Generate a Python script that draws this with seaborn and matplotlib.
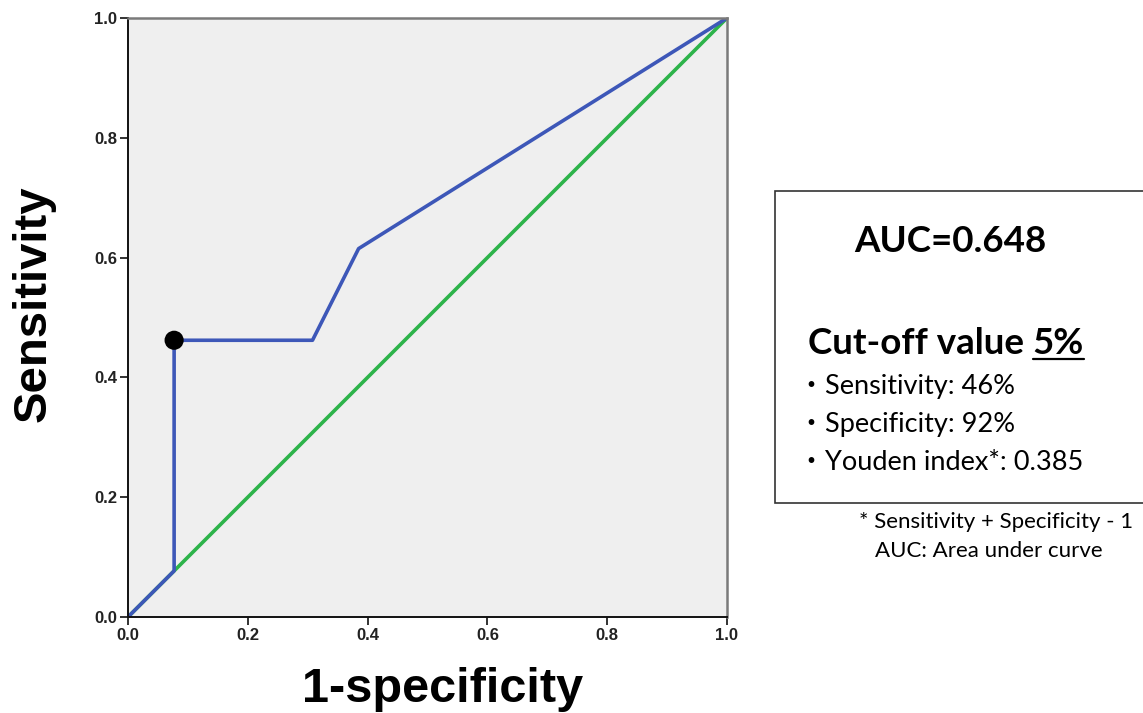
import matplotlib
matplotlib.use('Agg')
import matplotlib.pyplot as plt
import seaborn as sns
import pandas as pd
from matplotlib.patches import Rectangle
from matplotlib.lines import Line2D

# ROC curve (1-specificity, sensitivity)
fpr = [0.0, 0.077, 0.077, 0.308, 0.385, 1.0]
tpr = [0.0, 0.077, 0.462, 0.462, 0.615, 1.0]
# reference diagonal
diag = [0.0, 1.0]
# chosen cut-off point
cut_fpr = [0.077]
cut_tpr = [0.462]

ticks = [0.0, 0.2, 0.4, 0.6, 0.8, 1.0]
tick_labels = ['0.0', '0.2', '0.4', '0.6', '0.8', '1.0']

auc_text = 'AUC=0.648'
cutoff_label = 'Cut-off value '
cutoff_value = '5%'
stat_lines = ['・Sensitivity: 46%', '・Specificity: 92%', '・Youden index*: 0.385']
note_lines = ['* Sensitivity + Specificity - 1', 'AUC: Area under curve']

W, H = 1143, 713

sns.set_theme(style='white')
plt.rcParams['font.family'] = ['Liberation Sans', 'DejaVu Sans']
plt.rcParams['text.color'] = 'black'

fig = plt.figure(figsize=(W / 100, H / 100), dpi=100)
ax = fig.add_axes([128 / W, 1 - 617 / H, 599 / W, 599 / H])
ax.set_facecolor('#efefef')

roc = pd.DataFrame({'fpr': fpr, 'tpr': tpr})
ref = pd.DataFrame({'x': diag, 'y': diag})
sns.lineplot(data=ref, x='x', y='y', sort=False, estimator=None,
             color='#2db34a', linewidth=2.6, ax=ax)
sns.lineplot(data=roc, x='fpr', y='tpr', sort=False, estimator=None,
             color='#3d57b8', linewidth=2.6, ax=ax)
sns.scatterplot(x=cut_fpr, y=cut_tpr, color='black', s=190, marker='o',
                edgecolor='none', zorder=5, ax=ax)

ax.set_xlim(0, 1)
ax.set_ylim(0, 1)
ax.set_xticks(ticks)
ax.set_xticklabels(tick_labels)
ax.set_yticks(ticks)
ax.set_yticklabels(tick_labels)
ax.tick_params(axis='both', direction='out', length=6, width=1.3, color='#222222',
               labelsize=12, labelcolor='#222222', pad=2, bottom=True, left=True)
for lab in ax.get_xticklabels() + ax.get_yticklabels():
    lab.set_fontweight('bold')

for side in ['left', 'bottom']:
    ax.spines[side].set_color('#111111')
    ax.spines[side].set_linewidth(1.4)
for side in ['top', 'right']:
    ax.spines[side].set_color('#7a7a7a')
    ax.spines[side].set_linewidth(1.8)

ax.set_xlabel('')
ax.set_ylabel('')
fig.text(34 / W, 1 - 304 / H, 'Sensitivity', rotation=90, ha='center', va='center',
         fontsize=34, fontweight='bold')
fig.text(443 / W, 1 - 702 / H, '1-specificity', ha='center', va='baseline',
         fontsize=35, fontweight='bold')

# info box
fig.patches.append(Rectangle((775 / W, 1 - 503 / H), (W + 10 - 775) / W, 312 / H,
                             transform=fig.transFigure, facecolor='white',
                             edgecolor='#333333', linewidth=1.2, clip_on=False))

box_font = ['Lato', 'Noto Sans CJK JP', 'DejaVu Sans']
fig.text(950 / W, 1 - 252 / H, auc_text, ha='center', va='baseline', fontsize=26.5,
         fontweight='bold', family=box_font)
t1 = fig.text(808 / W, 1 - 354 / H, cutoff_label, ha='left', va='baseline', fontsize=26.5,
              fontweight='bold', family=box_font)
fig.canvas.draw()
r = fig.canvas.get_renderer()
bb = t1.get_window_extent(r)
t2 = fig.text(bb.x1 / W, 1 - 354 / H, cutoff_value, ha='left', va='baseline', fontsize=26.5,
              fontweight='bold', family=box_font)
bb2 = t2.get_window_extent(r)
uy = 1 - 359 / H
fig.add_artist(Line2D([bb2.x0 / W, bb2.x1 / W], [uy, uy], transform=fig.transFigure,
                      color='black', linewidth=1.6))

for i, line in enumerate(stat_lines):
    fig.text(798 / W, 1 - (394 + i * 38) / H, line, ha='left', va='baseline',
             fontsize=19.5, family=box_font)

for i, line in enumerate(note_lines):
    fig.text((1133 - i * 30) / W, 1 - (528 + i * 29) / H, line, ha='right', va='baseline',
             fontsize=16, family=box_font)

fig.savefig('out.png', dpi=100)
